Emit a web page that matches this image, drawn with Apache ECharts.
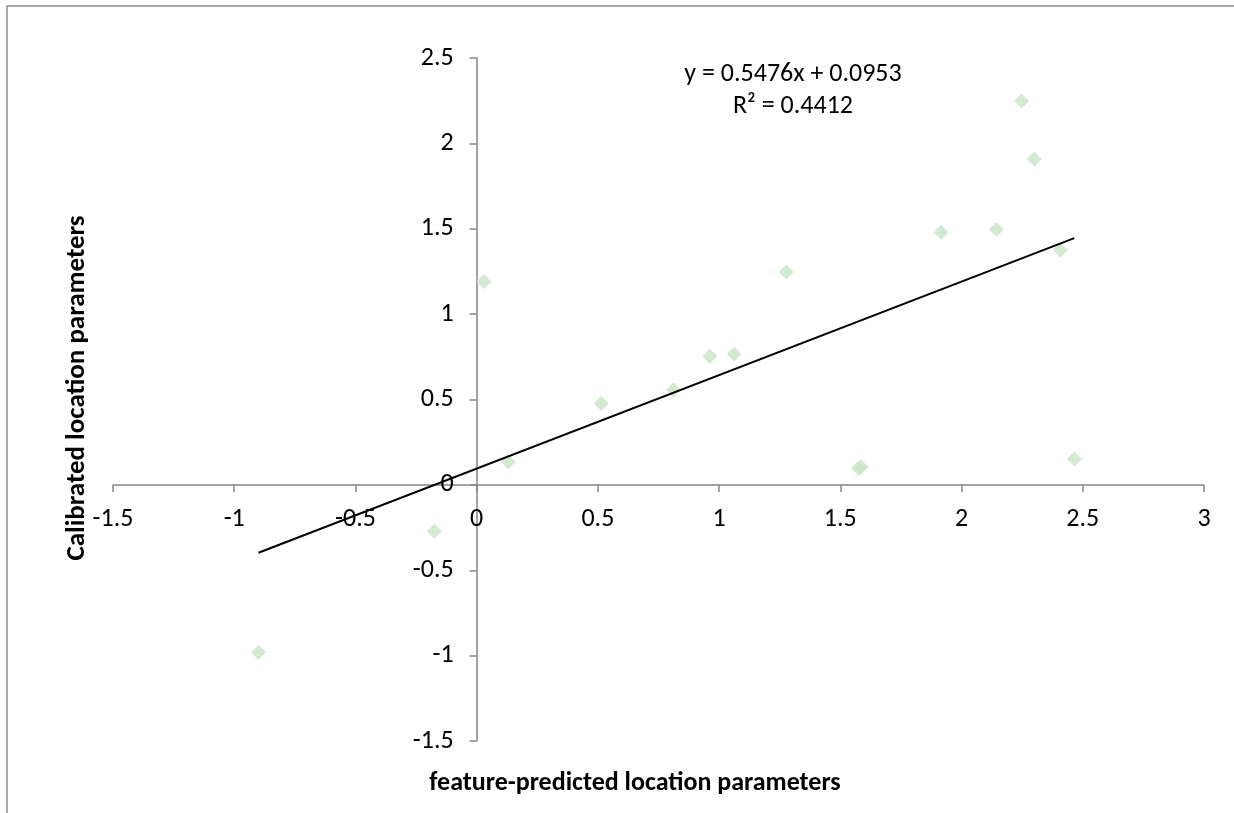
<!DOCTYPE html>
<html>
<head>
<meta charset="utf-8">
<script src="https://cdn.jsdelivr.net/npm/echarts@6/dist/echarts.min.js"></script>
<style>
  html, body { margin: 0; padding: 0; background: #fff; }
  #chart { width: 1234px; height: 813px; }
</style>
</head>
<body>
<div id="chart"></div>
<script>
// feature-predicted (x) vs calibrated (y) location parameters
const predicted = [-0.90, -0.175, 0.03, 0.13, 0.514, 0.812, 0.962, 1.062, 1.277, 1.575, 1.585, 1.916, 2.144, 2.248, 2.300, 2.407, 2.465];
const calibrated = [-0.98, -0.272, 1.191, 0.134, 0.477, 0.557, 0.754, 0.766, 1.246, 0.097, 0.105, 1.479, 1.495, 2.248, 1.908, 1.376, 0.152];

// trendline from the equation shown on the chart
const slope = 0.5476;
const intercept = 0.0953;
const rSquared = 0.4412;

const xTicks = [-1.5, -1, -0.5, 0, 0.5, 1, 1.5, 2, 2.5, 3];
const yTicks = [-1.5, -1, -0.5, 0, 0.5, 1, 1.5, 2, 2.5];

const font = "Carlito, Calibri, 'Open Sans', sans-serif";

const points = predicted.map((x, i) => [x, calibrated[i]]);
const xMin = Math.min(...predicted);
const xMax = Math.max(...predicted);
const trend = [xMin, xMax].map(x => [x, slope * x + intercept]);

const W = 1234, H = 813;
const grid = { left: 113, right: 30, top: 58, bottom: 72 };
const gw = W - grid.left - grid.right;
const gh = H - grid.top - grid.bottom;
const xLo = xTicks[0], xHi = xTicks[xTicks.length - 1];
const yLo = yTicks[0], yHi = yTicks[yTicks.length - 1];
// axes cross at zero, like the original
const xAxisOffset = -gh * (0 - yLo) / (yHi - yLo);
const yAxisOffset = -gw * (0 - xLo) / (xHi - xLo);

const chart = echarts.init(document.getElementById("chart"));

const axisStyle = {
  axisLine: { onZero: false, lineStyle: { color: "#868686", width: 1.5 } },
  axisTick: { show: true, length: 7, lineStyle: { color: "#868686", width: 1.5 } },
  splitLine: { show: false }
};

chart.setOption({
  animation: false,
  backgroundColor: "#fff",
  grid: grid,
  xAxis: {
    type: "value",
    min: xLo,
    max: xHi,
    interval: 0.5,
    offset: xAxisOffset,
    ...axisStyle,
    axisLabel: { color: "#000", fontFamily: font, fontSize: 26, margin: 22, hideOverlap: false }
  },
  yAxis: {
    type: "value",
    min: yLo,
    max: yHi,
    interval: 0.5,
    offset: yAxisOffset,
    ...axisStyle,
    axisLabel: { color: "#000", fontFamily: font, fontSize: 26, margin: 23, hideOverlap: false }
  },
  series: [
    {
      type: "scatter",
      data: points,
      symbol: "diamond",
      symbolSize: [15, 15],
      itemStyle: { color: "#c8e3c5" },
      z: 2
    },
    {
      type: "line",
      data: trend,
      symbol: "none",
      lineStyle: { color: "#000", width: 2 },
      z: 3
    }
  ],
  graphic: [
    {
      type: "rect",
      shape: { x: 7, y: 6, width: 1300, height: 900 },
      style: { fill: "none", stroke: "#8c8c8c", lineWidth: 1.5 },
      silent: true
    },
    {
      type: "text",
      x: 793, y: 74,
      style: {
        text: "y = " + slope + "x + " + intercept,
        fill: "#000", font: "26px " + font, align: "center", verticalAlign: "middle"
      }
    },
    {
      type: "text",
      x: 793, y: 106,
      style: {
        text: "R² = " + rSquared,
        fill: "#000", font: "26px " + font, align: "center", verticalAlign: "middle"
      }
    },
    {
      type: "text",
      x: 635, y: 783,
      style: {
        text: "feature-predicted location parameters",
        fill: "#000", font: "bold 26px " + font, align: "center", verticalAlign: "middle"
      }
    },
    {
      type: "text",
      x: 77, y: 388,
      rotation: Math.PI / 2,
      style: {
        text: "Calibrated location parameters",
        fill: "#000", font: "bold 27px " + font, align: "center", verticalAlign: "middle"
      }
    }
  ]
});
</script>
</body>
</html>
